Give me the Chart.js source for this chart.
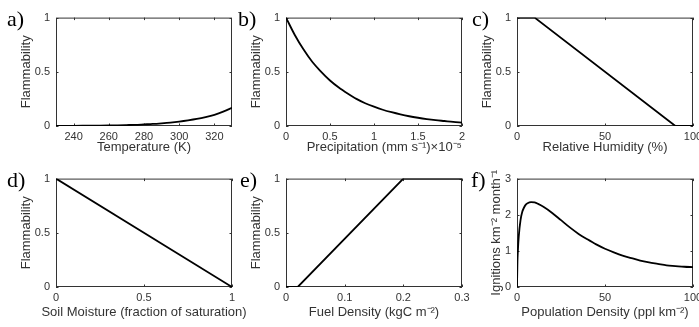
<!DOCTYPE html>
<html>
<head>
<meta charset="utf-8">
<script src="https://cdn.jsdelivr.net/npm/chart.js@4.4.0/dist/chart.umd.min.js"></script>
<style>
  body { margin: 0; width: 699px; height: 327px; overflow: hidden; background: #fff; position: relative; }
  .panel { position: absolute; width: 240px; height: 165px; }
  .tag { position: absolute; font-family: 'Liberation Serif', 'Times New Roman', serif; font-size: 22px; line-height: 22px; color: #000; }
</style>
</head>
<body>
<canvas class="panel" id="pa" width="240" height="165" style="left:6px;top:5px"></canvas>
<canvas class="panel" id="pb" width="240" height="165" style="left:236px;top:5px"></canvas>
<canvas class="panel" id="pc" width="240" height="165" style="left:467px;top:5px"></canvas>
<canvas class="panel" id="pd" width="240" height="165" style="left:6px;top:166px"></canvas>
<canvas class="panel" id="pe" width="240" height="165" style="left:236px;top:166px"></canvas>
<canvas class="panel" id="pf" width="240" height="165" style="left:467px;top:166px"></canvas>
<div class="tag" style="left:7px;top:8px">a)</div>
<div class="tag" style="left:238px;top:8px">b)</div>
<div class="tag" style="left:472px;top:8px">c)</div>
<div class="tag" style="left:7px;top:169px">d)</div>
<div class="tag" style="left:240px;top:169px">e)</div>
<div class="tag" style="left:471px;top:169px">f)</div>
<script>
// a) temperature
const tempK = [230, 235, 240, 245, 250, 255, 260, 265, 270, 275, 280, 285, 290, 295, 300, 305, 310, 315, 320, 325, 330];
const flamTemp = [0.001, 0.0013, 0.0017, 0.0022, 0.0029, 0.0038, 0.005, 0.0066, 0.0087, 0.011, 0.015, 0.019, 0.025, 0.032, 0.041, 0.052, 0.065, 0.082, 0.103, 0.132, 0.168];
const tempTicks = [240, 260, 280, 300, 320];

// b) precipitation (x 1e-5)
const precip = [0, 0.1, 0.2, 0.3, 0.4, 0.5, 0.6, 0.7, 0.8, 0.9, 1.0, 1.1, 1.2, 1.3, 1.4, 1.5, 1.6, 1.7, 1.8, 1.9, 2.0];
const flamPrecip = [1.0, 0.84, 0.705, 0.59, 0.5, 0.42, 0.355, 0.3, 0.25, 0.21, 0.178, 0.15, 0.127, 0.107, 0.09, 0.076, 0.064, 0.054, 0.046, 0.038, 0.032];
const precipTicks = [0, 0.5, 1, 1.5, 2];

// c) relative humidity
const humidity = [0, 10, 90, 100];
const flamHumidity = [1, 1, 0, 0];
const humidityTicks = [0, 50, 100];

// d) soil moisture
const soil = [0, 1];
const flamSoil = [1, 0];
const soilTicks = [0, 0.5, 1];

// e) fuel density
const fuel = [0, 0.02, 0.2, 0.3];
const flamFuel = [0, 0, 1, 1];
const fuelTicks = [0, 0.1, 0.2, 0.3];

// f) ignitions vs population density
const popDensity = [0, 0.25, 0.5, 1, 2, 3, 4, 5, 6, 8, 10, 12, 15, 20, 25, 30, 35, 40, 45, 50, 55, 60, 65, 70, 75, 80, 85, 90, 95, 100];
const ignitions = [0, 0.7, 1.0, 1.4, 1.85, 2.08, 2.2, 2.28, 2.32, 2.35, 2.34, 2.3, 2.22, 2.05, 1.85, 1.65, 1.47, 1.32, 1.18, 1.06, 0.96, 0.87, 0.8, 0.73, 0.68, 0.64, 0.6, 0.58, 0.56, 0.55];
const popTicks = [0, 50, 100];

const flamTicks = [0, 0.5, 1];
const ignTicks = [0, 1, 2, 3];

const FONT = "'Liberation Sans', Arial, sans-serif";
const AXIS = '#333';

// matlab style box, inward ticks and the axis titles (drawn here so chart.js does not squeeze them)
const matFrame = {
  id: 'matFrame',
  beforeDatasetsDraw(chart) {
    const { ctx, chartArea: a, scales } = chart;
    ctx.save();
    ctx.strokeStyle = AXIS;
    ctx.lineWidth = 1;
    ctx.strokeRect(a.left + 0.5, a.top + 0.5, a.right - a.left - 1, a.bottom - a.top - 1);
    const tl = 2.5;
    ctx.beginPath();
    scales.x.ticks.forEach((t, i) => {
      const px = Math.round(scales.x.getPixelForTick(i)) + 0.5;
      ctx.moveTo(px, a.bottom); ctx.lineTo(px, a.bottom - tl);
      ctx.moveTo(px, a.top); ctx.lineTo(px, a.top + tl);
    });
    scales.y.ticks.forEach((t, i) => {
      const py = Math.round(scales.y.getPixelForTick(i)) + 0.5;
      ctx.moveTo(a.left, py); ctx.lineTo(a.left + tl, py);
      ctx.moveTo(a.right, py); ctx.lineTo(a.right - tl, py);
    });
    ctx.stroke();
    ctx.restore();
  },
  afterDraw(chart, args, opts) {
    const { ctx, chartArea: a } = chart;
    ctx.save();
    ctx.font = '13px ' + FONT;
    ctx.fillStyle = AXIS;
    ctx.textBaseline = 'middle';
    // x title
    if (opts.xalign === 'end') {
      ctx.textAlign = 'right';
      ctx.fillText(opts.xtitle, a.right, a.bottom + opts.xoff);
    } else {
      ctx.textAlign = 'center';
      ctx.fillText(opts.xtitle, (a.left + a.right) / 2, a.bottom + opts.xoff);
    }
    // y title
    ctx.translate(a.left - opts.yoff, (a.top + a.bottom) / 2);
    ctx.rotate(-Math.PI / 2);
    ctx.textAlign = 'center';
    ctx.fillText(opts.ytitle, 0, 0);
    ctx.restore();
  }
};

const fmt = v => String(Math.round(v * 1000) / 1000);

function makePanel(id, cfg) {
  new Chart(document.getElementById(id), {
    type: 'line',
    data: {
      datasets: [{
        data: cfg.x.map((v, i) => ({ x: v, y: cfg.y[i] })),
        borderColor: '#000',
        borderWidth: 1.8,
        pointRadius: 0,
        fill: false,
        tension: 0,
        cubicInterpolationMode: cfg.smooth ? 'monotone' : 'default'
      }]
    },
    options: {
      responsive: false,
      animation: false,
      events: [],
      layout: { padding: { left: 0, top: 12, right: 14, bottom: 0 } },
      plugins: {
        legend: { display: false },
        tooltip: { enabled: false },
        matFrame: { xtitle: cfg.xtitle, xalign: cfg.xalign, xoff: cfg.xoff, ytitle: cfg.ytitle, yoff: cfg.yoff || 29.5 }
      },
      scales: {
        x: {
          type: 'linear',
          min: cfg.xmin, max: cfg.xmax,
          afterBuildTicks: s => { s.ticks = cfg.xticks.map(v => ({ value: v })); },
          afterFit: s => { s.height = 44; },
          grid: { display: false, drawTicks: false },
          border: { display: false },
          ticks: { padding: 4, color: AXIS, font: { family: FONT, size: 11 }, maxRotation: 0, autoSkip: false, callback: fmt }
        },
        y: {
          type: 'linear',
          min: cfg.ymin, max: cfg.ymax,
          afterBuildTicks: s => { s.ticks = cfg.yticks.map(v => ({ value: v })); },
          afterFit: s => { s.width = 50; },
          grid: { display: false, drawTicks: false },
          border: { display: false },
          ticks: { padding: 6, color: AXIS, font: { family: FONT, size: 11 }, autoSkip: false, callback: fmt }
        }
      }
    },
    plugins: [matFrame]
  });
}

const row1Off = 21, row2Off = 25;

makePanel('pa', { x: tempK, y: flamTemp, smooth: true, xmin: 230, xmax: 330, xticks: tempTicks, ymin: 0, ymax: 1, yticks: flamTicks,
  xtitle: 'Temperature (K)', ytitle: 'Flammability', xoff: row1Off });
makePanel('pb', { x: precip, y: flamPrecip, smooth: true, xmin: 0, xmax: 2, xticks: precipTicks, ymin: 0, ymax: 1, yticks: flamTicks,
  xtitle: 'Precipitation (mm s\u207B\u00B9)\u00D710\u207B\u2075', xalign: 'end', ytitle: 'Flammability', xoff: row1Off });
makePanel('pc', { x: humidity, y: flamHumidity, xmin: 0, xmax: 100, xticks: humidityTicks, ymin: 0, ymax: 1, yticks: flamTicks,
  xtitle: 'Relative Humidity (%)', ytitle: 'Flammability', xoff: row1Off });
makePanel('pd', { x: soil, y: flamSoil, xmin: 0, xmax: 1, xticks: soilTicks, ymin: 0, ymax: 1, yticks: flamTicks,
  xtitle: 'Soil Moisture (fraction of saturation)', ytitle: 'Flammability', xoff: row2Off });
makePanel('pe', { x: fuel, y: flamFuel, xmin: 0, xmax: 0.3, xticks: fuelTicks, ymin: 0, ymax: 1, yticks: flamTicks,
  xtitle: 'Fuel Density (kgC m\u207B\u00B2)', ytitle: 'Flammability', xoff: row2Off });
makePanel('pf', { x: popDensity, y: ignitions, smooth: true, xmin: 0, xmax: 100, xticks: popTicks, ymin: 0, ymax: 3, yticks: ignTicks,
  xtitle: 'Population Density (ppl km\u207B\u00B2)', ytitle: 'Ignitions km\u207B\u00B2 month\u207B\u00B9', yoff: 20.5, xoff: row2Off });
</script>
</body>
</html>
